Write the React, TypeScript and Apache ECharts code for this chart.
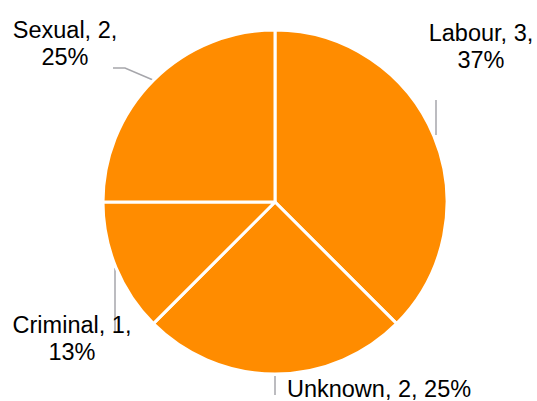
import React, { useEffect, useRef } from "react";
import * as echarts from "echarts";

const categories = ["Labour", "Unknown", "Criminal", "Sexual"];
const values = [3, 2, 1, 2];
const pctLabels = ["37%", "25%", "13%", "25%"];

// label placement (layout, not data)
const labelPlacement = [
  { x: 481, y: 46, line: [[436, 135], [436, 100]] },
  { x: 379, y: 389, line: [[275, 376], [275, 395]] },
  { x: 72, y: 338, line: [[115, 268], [115, 333]] },
  { x: 65, y: 43, line: [[153, 80], [125, 68], [113, 68]] },
];

export default function App() {
  const ref = useRef<HTMLDivElement>(null);
  useEffect(() => {
    if (!ref.current) return;
    const chart = echarts.init(ref.current, null, { renderer: "svg" });
    chart.setOption({
      animation: false,
      backgroundColor: "#ffffff",
      series: [
        {
          type: "pie",
          center: [275, 202],
          radius: 172,
          startAngle: 90,
          clockwise: true,
          color: ["#FF8C00"],
          itemStyle: { color: "#FF8C00", borderColor: "#ffffff", borderWidth: 3 },
          emphasis: { disabled: true },
          data: categories.map((c, i) => ({ name: c, value: values[i] })),
          label: {
            show: true,
            fontFamily: "Liberation Sans, Arial, sans-serif",
            fontSize: 23.5,
            lineHeight: 27,
            color: "#000000",
            align: "center",
            overflow: "none",
            alignTo: "none",
            formatter: (p: any) =>
              p.dataIndex === 1
                ? `${p.name}, ${p.value}, ${pctLabels[p.dataIndex]}`
                : `${p.name}, ${p.value},\n${pctLabels[p.dataIndex]}`,
          },
          labelLine: {
            show: true,
            lineStyle: { color: "#A6A6AB", width: 1.5 },
          },
          labelLayout: (params: any) => {
            const lp = labelPlacement[params.dataIndex];
            return {
              x: lp.x,
              y: lp.y,
              align: "center",
              verticalAlign: "middle",
              labelLinePoints: lp.line,
            };
          },
        },
      ],
    });
    return () => chart.dispose();
  }, []);
  return <div ref={ref} style={{ width: 537, height: 401, position: "fixed", left: 0, top: 0 }} />;
}
